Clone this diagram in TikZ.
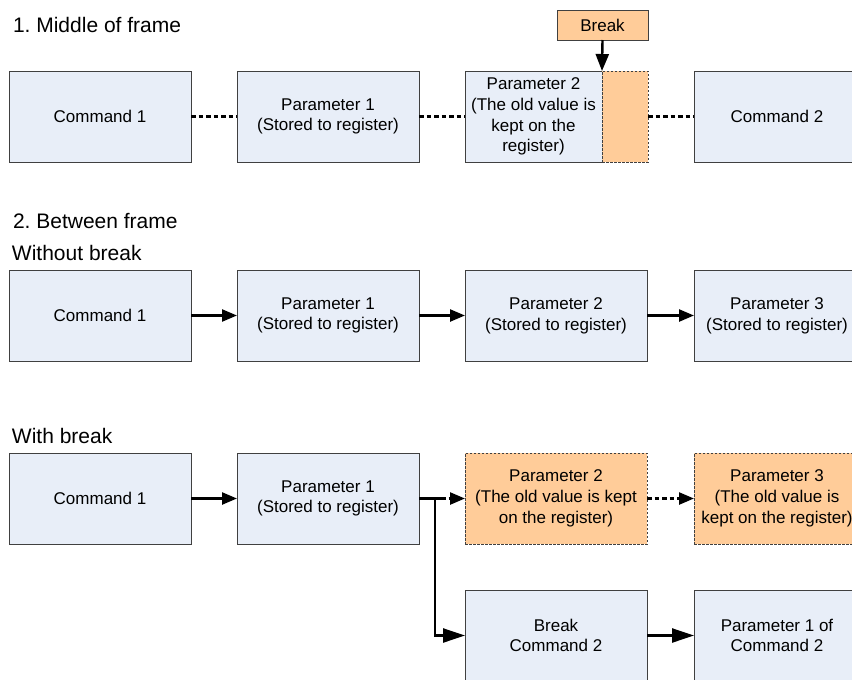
\documentclass[tikz,border=0pt]{standalone}
\usepackage{fontspec}
\setmainfont{Liberation Sans}
\usetikzlibrary{arrows.meta}
\definecolor{boxblue}{HTML}{E8EEF8}
\definecolor{boxorange}{HTML}{FFCC99}
\definecolor{edgegray}{HTML}{404040}
\frenchspacing
\begin{document}
\begin{tikzpicture}[x=1pt,y=-1pt,
  every node/.style={inner sep=0pt, outer sep=0pt},
  blk/.style={draw=edgegray, line width=0.9pt, fill=boxblue, minimum width=182pt, minimum height=91pt,
    anchor=north west, align=center, font=\fontsize{17}{20.8}\selectfont},
  blkw/.style={blk, minimum width=166pt},
  oblk/.style={blk, fill=boxorange, dash pattern=on 2.5pt off 1.5pt},
  title/.style={anchor=base west, font=\fontsize{21}{25}\selectfont},
  dline/.style={line width=2.4pt, dash pattern=on 4.5pt off 3pt},
  sline/.style={line width=2.4pt},
  arr/.style={-{Triangle[length=15pt,width=12pt]}},
  barr/.style={-{Triangle[length=22pt,width=14pt]}}
]
\useasboundingbox (0,0) rectangle (852,680);
\fill[white] (0,0) rectangle (852,680);

% ---- 1. Middle of frame
\node[title] (t1) at (13,32) {1. Middle of frame};
\node[blk] (a1) at (9,71) {Command 1};
\node[blk] (a2) at (237,71) {Parameter 1\\(Stored to register)};
\node[blk, minimum width=137pt] (a3) at (465,71) {Parameter 2\\(The old value is\\kept on the\\register)};
\node[oblk, minimum width=46pt] (a3s) at (602,71) {};
\node[blkw] (a4) at (694,71) {Command 2};
\node[draw=edgegray, line width=0.9pt, fill=boxorange, minimum width=91pt, minimum height=30pt,
  anchor=north west, font=\fontsize{17}{20.5}\selectfont] (brk) at (557,10) {Break};
\draw[sline, -{Triangle[length=17pt,width=13pt]}] (brk.south) -- (a3s.north west);
\draw[dline] (a1.east) -- (a2.west);
\draw[dline] (a2.east) -- (a3.west);
\draw[dline] (a3s.east) -- (a4.west);

% ---- 2. Between frame
\node[title] (t2) at (13,228) {2. Between frame};
\node[title] (t3) at (12,260) {Without break};
\node[blk] (b1) at (9,270) {Command 1};
\node[blk] (b2) at (237,270) {Parameter 1\\(Stored to register)};
\node[blk] (b3) at (465,270) {Parameter 2\\(Stored to register)};
\node[blkw] (b4) at (694,270) {Parameter 3\\(Stored to register)};
\draw[sline, arr] (b1.east) -- (b2.west);
\draw[sline, arr] (b2.east) -- (b3.west);
\draw[sline, arr] (b3.east) -- (b4.west);

% ---- With break
\node[title] (t4) at (12,443) {With break};
\node[blk] (c1) at (9,453) {Command 1};
\node[blk] (c2) at (237,453) {Parameter 1\\(Stored to register)};
\node[oblk] (c3) at (465,453) {Parameter 2\\(The old value is kept\\on the register)};
\node[oblk, minimum width=166pt] (c4) at (694,453) {Parameter 3\\(The old value is\\kept on the register)};
\node[blk] (d3) at (465,590) {Break\\Command 2};
\node[blkw] (d4) at (694,590) {Parameter 1 of\\Command 2};
\coordinate (j) at (435,498.5);
\draw[sline, arr] (c1.east) -- (c2.west);
\draw[sline] (c2.east) -- ([xshift=6pt]j);
\draw[dline, arr] ([xshift=6pt]j) -- (c3.west);
\draw[dline, arr] (c3.east) -- (c4.west);
\draw[sline, barr] ([yshift=-1.2pt]j) |- (d3.west);
\draw[sline, barr] (d3.east) -- (d4.west);
\end{tikzpicture}
\end{document}
